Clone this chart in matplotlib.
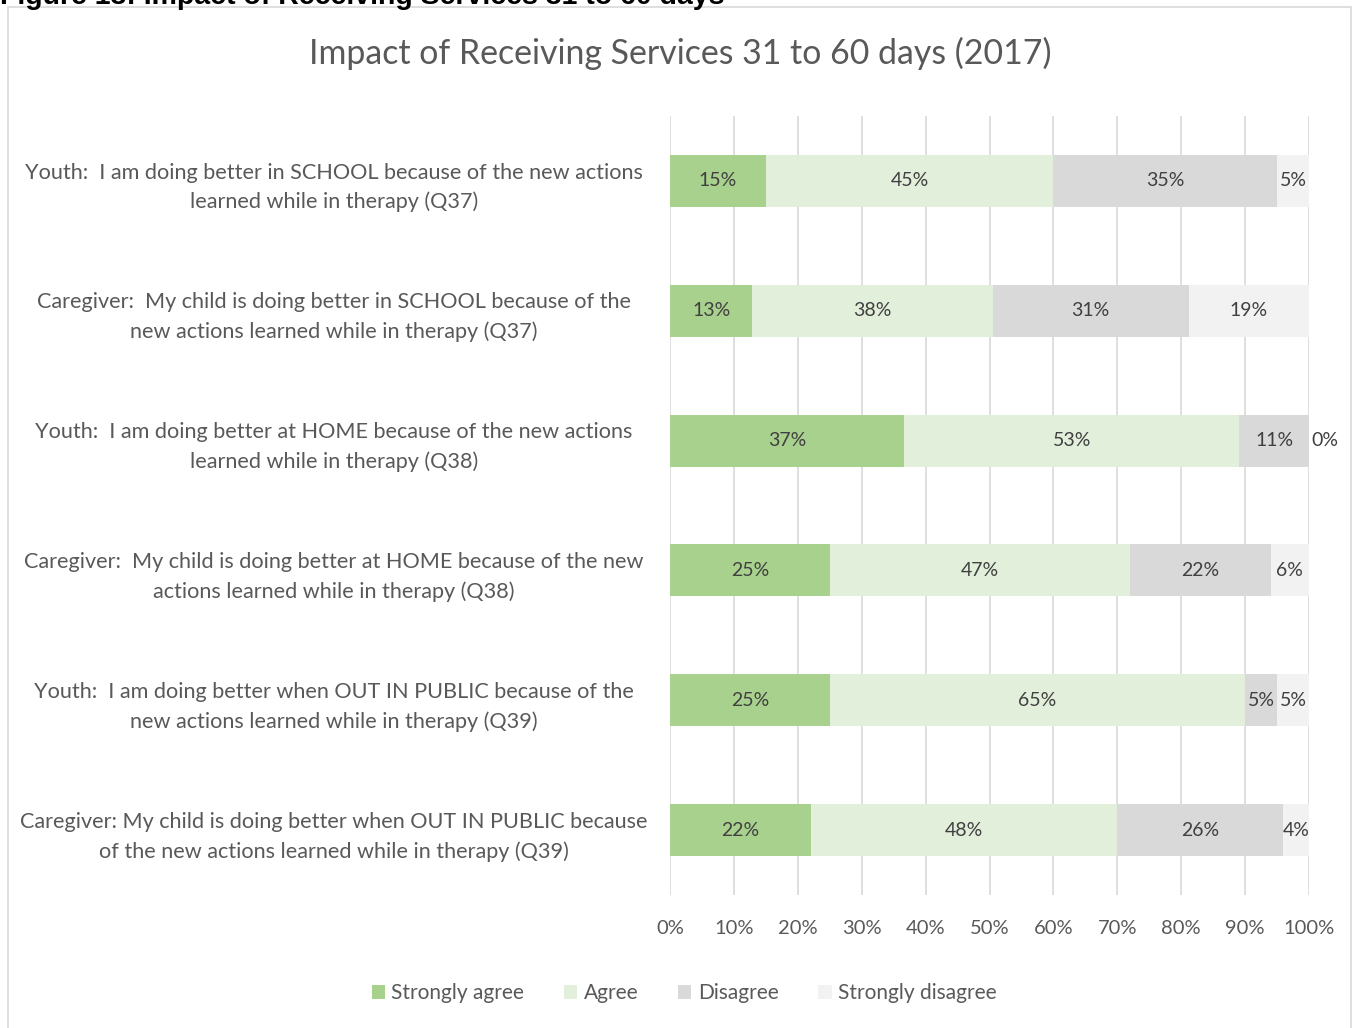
import numpy as np
import matplotlib
matplotlib.use("Agg")
import matplotlib.pyplot as plt
from matplotlib.patches import Rectangle

# Survey responses, in percent, per question
questions = [
    "Youth:  I am doing better in SCHOOL because of the new actions\nlearned while in therapy (Q37)",
    "Caregiver:  My child is doing better in SCHOOL because of the\nnew actions learned while in therapy (Q37)",
    "Youth:  I am doing better at HOME because of the new actions\nlearned while in therapy (Q38)",
    "Caregiver:  My child is doing better at HOME because of the new\nactions learned while in therapy (Q38)",
    "Youth:  I am doing better when OUT IN PUBLIC because of the\nnew actions learned while in therapy (Q39)",
    "Caregiver: My child is doing better when OUT IN PUBLIC because\nof the new actions learned while in therapy (Q39)",
]
responses = ["Strongly agree", "Agree", "Disagree", "Strongly disagree"]
strongly_agree = [15, 13, 37, 25, 25, 22]
agree = [45, 38, 53, 47, 65, 48]
disagree = [35, 31, 11, 22, 5, 26]
strongly_disagree = [5, 19, 0, 6, 5, 4]

colors = ["#a9d18e", "#e2efda", "#d9d9d9", "#f2f2f2"]
text_grey = "#595959"
label_grey = "#404040"

plt.rcParams["font.family"] = ["Lato", "DejaVu Sans"]

fig = plt.figure(figsize=(13.53, 10.28), dpi=100)

# chart border and the caption sitting just above it
fig.patches.append(Rectangle((8 / 1353, -0.01), 1343 / 1353, 1.01 - 7 / 1028,
                             transform=fig.transFigure, fill=False,
                             edgecolor="#d9d9d9", linewidth=1.2))
fig.text(0.0, 1 - 4.5 / 1028, "Figure 13: Impact of Receiving Services 31 to 60 days",
         fontsize=20.5, fontweight="bold", color="black", ha="left", va="baseline",
         family=["Liberation Sans", "DejaVu Sans"])

ax = fig.add_axes([670 / 1353, 1 - 895 / 1028, 639 / 1353, 779 / 1028])

series = np.array([strongly_agree, agree, disagree, strongly_disagree], dtype=float)
shares = series / series.sum(axis=0) * 100  # 100% stacked
y = np.arange(len(questions))
left = np.zeros(len(questions))
for i, name in enumerate(responses):
    ax.barh(y, shares[i], left=left, height=0.4, color=colors[i], label=name, zorder=2)
    for j in range(len(questions)):
        cx = left[j] + shares[i][j] / 2
        if shares[i][j] == 0:
            cx += 2.5
        ax.text(cx, y[j], f"{int(series[i][j])}%", ha="center", va="center",
                fontsize=14, color=label_grey, zorder=3)
    left += shares[i]

ax.set_xlim(0, 100)
ax.set_ylim(len(questions) - 0.5, -0.5)
ax.set_xticks(np.arange(0, 101, 10))
ax.set_xticklabels([f"{v}%" for v in range(0, 101, 10)])
ax.set_yticks(y)
ax.set_yticklabels(questions, ha="center", multialignment="center", linespacing=1.55)
ax.tick_params(axis="y", length=0, pad=0, labelsize=15.6, labelcolor=text_grey)
for lab in ax.get_yticklabels():
    lab.set_x(-(670 - 334) / 639)
ax.tick_params(axis="x", length=0, pad=18, labelsize=14.5, labelcolor=text_grey)
ax.xaxis.grid(True, color="#d9d9d9", linewidth=1.2, zorder=0)
ax.set_axisbelow(True)
for s in ax.spines.values():
    s.set_visible(False)

fig.text(680 / 1353, 1 - 53 / 1028, "Impact of Receiving Services 31 to 60 days (2017)",
         ha="center", va="center", fontsize=24.4, color=text_grey)

fig.legend(loc="center", bbox_to_anchor=(684 / 1353, 1 - 993 / 1028), ncol=4,
           frameon=False, fontsize=15, labelcolor=text_grey, handlelength=0.65,
           handleheight=0.65, handletextpad=0.3, columnspacing=1.9)

fig.savefig("out.png", dpi=100)
